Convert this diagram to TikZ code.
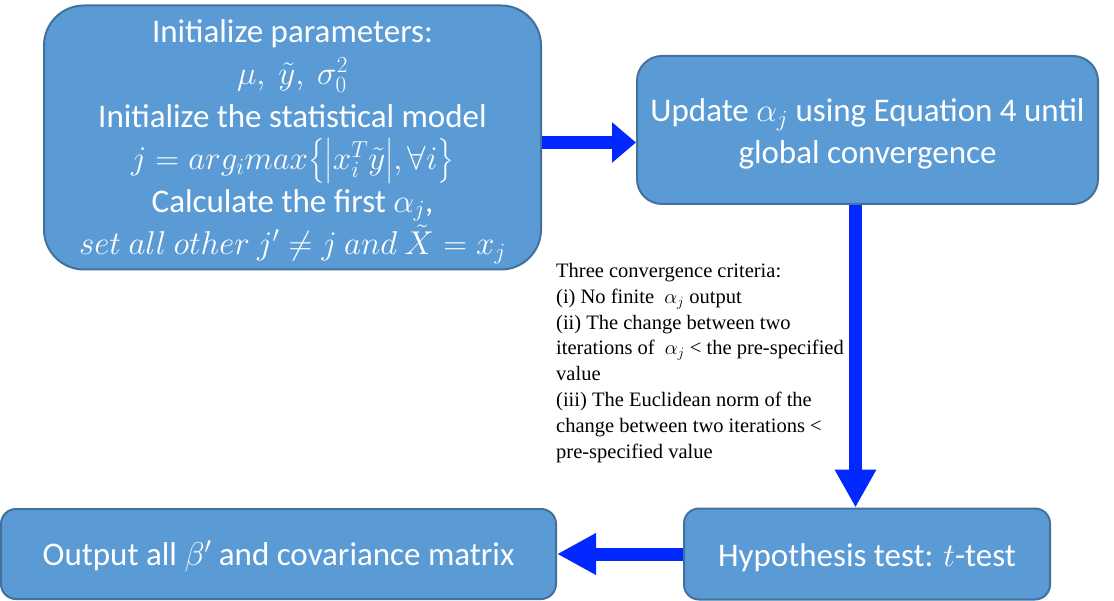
\RequirePackage{fix-cm}
\documentclass[tikz,border=0pt]{standalone}
\usepackage{amsmath}
\usepackage{fontspec}
\setmainfont{Carlito}
\newfontfamily\annfont{Liberation Serif}
\usetikzlibrary{arrows.meta}
\definecolor{boxfill}{HTML}{5B9BD5}
\definecolor{boxline}{HTML}{41719C}
\definecolor{arrblue}{RGB}{0,40,255}
\newcommand{\topstrut}[1]{\rule{0pt}{#1}}
\tikzset{
  stepbox/.style={draw=boxline, fill=boxfill, line width=2pt, text=white,
    align=center, inner sep=0pt, font=\fontsize{33}{42.5}\selectfont},
  fatarrow/.style={draw=arrblue, line width=13pt,
    -{Triangle[width=39pt,length=#1]}},
  fatarrow/.default=24pt,
  crittext/.style={anchor=north west, align=left, inner sep=0pt,
    font=\annfont\fontsize{20.5}{25.8}\selectfont}
}
\begin{document}
\begin{tikzpicture}[x=1pt,y=-1pt]
\useasboundingbox (0,0) rectangle (1114,601);
\node[stepbox, rounded corners=40pt, minimum width=497pt, minimum height=264pt] (init) at (292.5,137.5)
  {\topstrut{31pt}Initialize parameters:\\
   $\mu,\ \tilde{y},\ \sigma_0^2$\\
   Initialize the statistical model\\
   $j = arg_i max\bigl\{\bigl|x_i^T\tilde{y}\bigr|,\forall i\bigr\}$\\
   Calculate the first $\alpha_j$,\\
   $set\ all\ other\ j'\neq j\ and\ \tilde{X}=x_j$};
\node[stepbox, rounded corners=25pt, minimum width=461pt, minimum height=148pt] (upd) at (867.5,130)
  {\topstrut{31pt}Update $\alpha_j$ using Equation 4 until\\ global convergence};
\node[stepbox, rounded corners=15pt, minimum width=366pt, minimum height=91pt] (hyp) at (867,554)
  {\topstrut{30pt}Hypothesis test: $t$-test};
\node[stepbox, rounded corners=15pt, minimum width=555pt, minimum height=90pt] (out) at (278.5,554)
  {\topstrut{30pt}Output all $\beta'$ and covariance matrix};
\node[crittext] (crit) at (556,263)
  {Three convergence criteria:\\
   (i) No finite \ $\alpha_j$ output\\
   (ii) The change between two\\
   iterations of \ $\alpha_j$ < the pre-specified\\
   value\\
   (iii) The Euclidean norm of the\\
   change between two iterations <\\
   pre-specified value};
\draw[fatarrow=24pt] ([yshift=-5pt]init.east) -- ([yshift=-5pt]init.east -| upd.west);
\draw[fatarrow=38pt] ([xshift=-12pt]upd.south) -- ([xshift=-12pt]upd.south |- hyp.north);
\draw[fatarrow=39pt] (hyp.west) -- (hyp.west -| out.east);
\end{tikzpicture}
\end{document}
